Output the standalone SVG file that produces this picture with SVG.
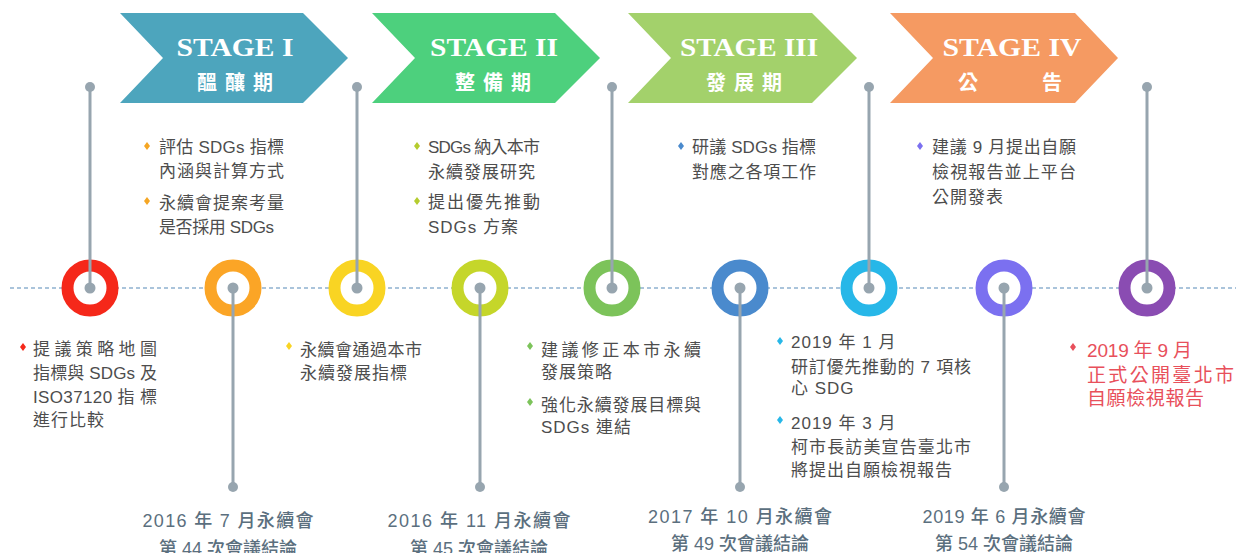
<svg xmlns="http://www.w3.org/2000/svg" width="1238" height="553" viewBox="0 0 1238 553">
<style>
.st{font-family:"Liberation Serif",serif;font-weight:bold;font-size:25px;fill:#fff;text-anchor:middle}
.sc{font-family:"Noto Sans CJK TC",sans-serif;font-weight:bold;font-size:20px;fill:#fff;text-anchor:middle;letter-spacing:8px}
.sc1{font-family:"Noto Sans CJK TC",sans-serif;font-weight:bold;font-size:20px;fill:#fff;text-anchor:middle}
.t{font-family:"Liberation Sans","Noto Sans CJK TC",sans-serif;font-size:17px;fill:#4d4d4d;letter-spacing:1px}
.te{font-family:"Liberation Sans","Noto Sans CJK TC",sans-serif;font-size:19px;fill:#e8505b;letter-spacing:1px}
.b{font-family:"Liberation Sans","Noto Sans CJK TC",sans-serif;font-size:18px;font-weight:500;fill:#5b6f7e;text-anchor:middle}
.ring{fill:#fff;stroke-width:12}
.vl{stroke:#97a5af;stroke-width:3}
.dot{fill:#97a5af}
</style>
<defs>
<path id="dm" d="M0,-4 L3,0 L0,4 L-3,0 Z"/>
</defs>
<g id="stages">
<g id="stage1"><polygon points="120,13 303,13 348,58 303,103 120,103 163,58" fill="#4da5bd"/><text class="st" x="235" y="56" textLength="117" lengthAdjust="spacingAndGlyphs">STAGE I</text><text class="sc" x="239" y="90">醞釀期</text></g>
<g id="stage2"><polygon points="372,13 555,13 600,58 555,103 372,103 415,58" fill="#4dd07d"/><text class="st" x="494" y="56" textLength="128" lengthAdjust="spacingAndGlyphs">STAGE II</text><text class="sc" x="497" y="90">整備期</text></g>
<g id="stage3"><polygon points="628,13 812,13 857,58 812,103 628,103 671,58" fill="#a3d16b"/><text class="st" x="749" y="56" textLength="138" lengthAdjust="spacingAndGlyphs">STAGE III</text><text class="sc" x="748" y="90">發展期</text></g>
<g id="stage4"><polygon points="890,13 1075,13 1118,58 1075,103 890,103 933,58" fill="#f59a62"/><text class="st" x="1012" y="56" textLength="139" lengthAdjust="spacingAndGlyphs">STAGE IV</text><text class="sc1" x="968" y="90">公</text><text class="sc1" x="1052" y="90">告</text></g>
</g>
<g id="connectors">
<line x1="10" y1="288" x2="1236" y2="288" stroke="#8fb1d0" stroke-width="1.3" stroke-dasharray="4,3"/>
</g>
<g id="rings">
<circle id="n1" class="ring" cx="90" cy="288" r="22.5" stroke="#f5281a"/>
<circle id="n2" class="ring" cx="233" cy="288" r="22.5" stroke="#fba526"/>
<circle id="n3" class="ring" cx="357" cy="288" r="22.5" stroke="#f9d423"/>
<circle id="n4" class="ring" cx="480" cy="288" r="22.5" stroke="#c5d62a"/>
<circle id="n5" class="ring" cx="612" cy="288" r="22.5" stroke="#7cc35a"/>
<circle id="n6" class="ring" cx="740" cy="288" r="22.5" stroke="#4a8acd"/>
<circle id="n7" class="ring" cx="869" cy="288" r="22.5" stroke="#27b7e8"/>
<circle id="n8" class="ring" cx="1004" cy="288" r="22.5" stroke="#7b70f0"/>
<circle id="n9" class="ring" cx="1147" cy="288" r="22.5" stroke="#8a4cb2"/>
</g>
<g id="stems">
<line class="vl" x1="90" y1="87" x2="90" y2="288"/><circle class="dot" cx="90" cy="87" r="5"/><circle class="dot" cx="90" cy="288" r="5.5"/>
<line class="vl" x1="233" y1="288" x2="233" y2="487"/><circle class="dot" cx="233" cy="487" r="5"/><circle class="dot" cx="233" cy="288" r="5.5"/>
<line class="vl" x1="357" y1="87" x2="357" y2="288"/><circle class="dot" cx="357" cy="87" r="5"/><circle class="dot" cx="357" cy="288" r="5.5"/>
<line class="vl" x1="480" y1="288" x2="480" y2="487"/><circle class="dot" cx="480" cy="487" r="5"/><circle class="dot" cx="480" cy="288" r="5.5"/>
<line class="vl" x1="612" y1="87" x2="612" y2="288"/><circle class="dot" cx="612" cy="87" r="5"/><circle class="dot" cx="612" cy="288" r="5.5"/>
<line class="vl" x1="740" y1="288" x2="740" y2="487"/><circle class="dot" cx="740" cy="487" r="5"/><circle class="dot" cx="740" cy="288" r="5.5"/>
<line class="vl" x1="869" y1="87" x2="869" y2="288"/><circle class="dot" cx="869" cy="87" r="5"/><circle class="dot" cx="869" cy="288" r="5.5"/>
<line class="vl" x1="1004" y1="288" x2="1004" y2="487"/><circle class="dot" cx="1004" cy="487" r="5"/><circle class="dot" cx="1004" cy="288" r="5.5"/>
<line class="vl" x1="1147" y1="87" x2="1147" y2="288"/><circle class="dot" cx="1147" cy="87" r="5"/><circle class="dot" cx="1147" cy="288" r="5.5"/>
</g>
<g id="top1">
<use href="#dm" x="147" y="146" fill="#f5a623"/><use href="#dm" x="147" y="201" fill="#f5a623"/>
<text class="t" x="159" y="153" textLength="126" lengthAdjust="spacing">評估 SDGs 指標</text>
<text class="t" x="159" y="177" textLength="126" lengthAdjust="spacing">內涵與計算方式</text>
<text class="t" x="159" y="209" textLength="126" lengthAdjust="spacing">永續會提案考量</text>
<text class="t" x="159" y="233" textLength="116" lengthAdjust="spacing">是否採用 SDGs</text>
</g>
<g id="top2">
<use href="#dm" x="417" y="146" fill="#b5cc2e"/><use href="#dm" x="417" y="201" fill="#b5cc2e"/>
<text class="t" x="428" y="153" textLength="113" lengthAdjust="spacing">SDGs 納入本市</text>
<text class="t" x="428" y="178">永續發展研究</text>
<text class="t" x="428" y="208" textLength="113" lengthAdjust="spacing">提出優先推動</text>
<text class="t" x="428" y="233">SDGs 方案</text>
</g>
<g id="top3">
<use href="#dm" x="681" y="146" fill="#4a8acd"/>
<text class="t" x="692" y="153" textLength="125" lengthAdjust="spacing">研議 SDGs 指標</text>
<text class="t" x="692" y="178" textLength="125" lengthAdjust="spacing">對應之各項工作</text>
</g>
<g id="top4">
<use href="#dm" x="920" y="146" fill="#7b70f0"/>
<text class="t" x="932" y="153" textLength="145" lengthAdjust="spacing">建議 9 月提出自願</text>
<text class="t" x="932" y="178" textLength="145" lengthAdjust="spacing">檢視報告並上平台</text>
<text class="t" x="932" y="203">公開發表</text>
</g>
<g id="botA">
<use href="#dm" x="23" y="347" fill="#f5281a"/>
<text class="t" x="33" y="355" textLength="125" lengthAdjust="spacing">提議策略地圖</text>
<text class="t" x="33" y="379" textLength="125" lengthAdjust="spacing">指標與 SDGs 及</text>
<text class="t" x="33" y="403" textLength="125" lengthAdjust="spacing">ISO37120 指 標</text>
<text class="t" x="33" y="426">進行比較</text>
</g>
<g id="botB">
<use href="#dm" x="289" y="346" fill="#f9d423"/>
<text class="t" x="300" y="356" textLength="123" lengthAdjust="spacing">永續會通過本市</text>
<text class="t" x="300" y="379">永續發展指標</text>
</g>
<g id="botC">
<use href="#dm" x="530" y="346" fill="#7cc35a"/><use href="#dm" x="530" y="402" fill="#7cc35a"/>
<text class="t" x="541" y="356" textLength="161" lengthAdjust="spacing">建議修正本市永續</text>
<text class="t" x="541" y="378">發展策略</text>
<text class="t" x="541" y="411" textLength="161" lengthAdjust="spacing">強化永續發展目標與</text>
<text class="t" x="541" y="433">SDGs 連結</text>
</g>
<g id="botD">
<use href="#dm" x="780" y="341" fill="#27b7e8"/><use href="#dm" x="780" y="420" fill="#27b7e8"/>
<text class="t" x="791" y="348">2019 年 1 月</text>
<text class="t" x="791" y="373" textLength="181" lengthAdjust="spacing">研訂優先推動的 7 項核</text>
<text class="t" x="791" y="394">心 SDG</text>
<text class="t" x="791" y="429">2019 年 3 月</text>
<text class="t" x="791" y="453" textLength="181" lengthAdjust="spacing">柯市長訪美宣告臺北市</text>
<text class="t" x="791" y="476">將提出自願檢視報告</text>
</g>
<g id="botE">
<use href="#dm" x="1073" y="347" fill="#e8505b"/>
<text class="te" x="1087" y="357" textLength="106" lengthAdjust="spacing">2019 年 9 月</text>
<text class="te" x="1087" y="382" textLength="148" lengthAdjust="spacing">正式公開臺北市</text>
<text class="te" x="1087" y="405" textLength="118" lengthAdjust="spacing">自願檢視報告</text>
</g>
<g id="labels">
<text class="b" x="228" y="527" textLength="171" lengthAdjust="spacing">2016 年 7 月永續會</text>
<text class="b" x="228" y="555">第 44 次會議結論</text>
<text class="b" x="479" y="527" textLength="183" lengthAdjust="spacing">2016 年 11 月永續會</text>
<text class="b" x="479" y="555">第 45 次會議結論</text>
<text class="b" x="740" y="523" textLength="184" lengthAdjust="spacing">2017 年 10 月永續會</text>
<text class="b" x="740" y="550">第 49 次會議結論</text>
<text class="b" x="1004" y="523" textLength="163" lengthAdjust="spacing">2019 年 6 月永續會</text>
<text class="b" x="1004" y="550">第 54 次會議結論</text>
</g>
</svg>
